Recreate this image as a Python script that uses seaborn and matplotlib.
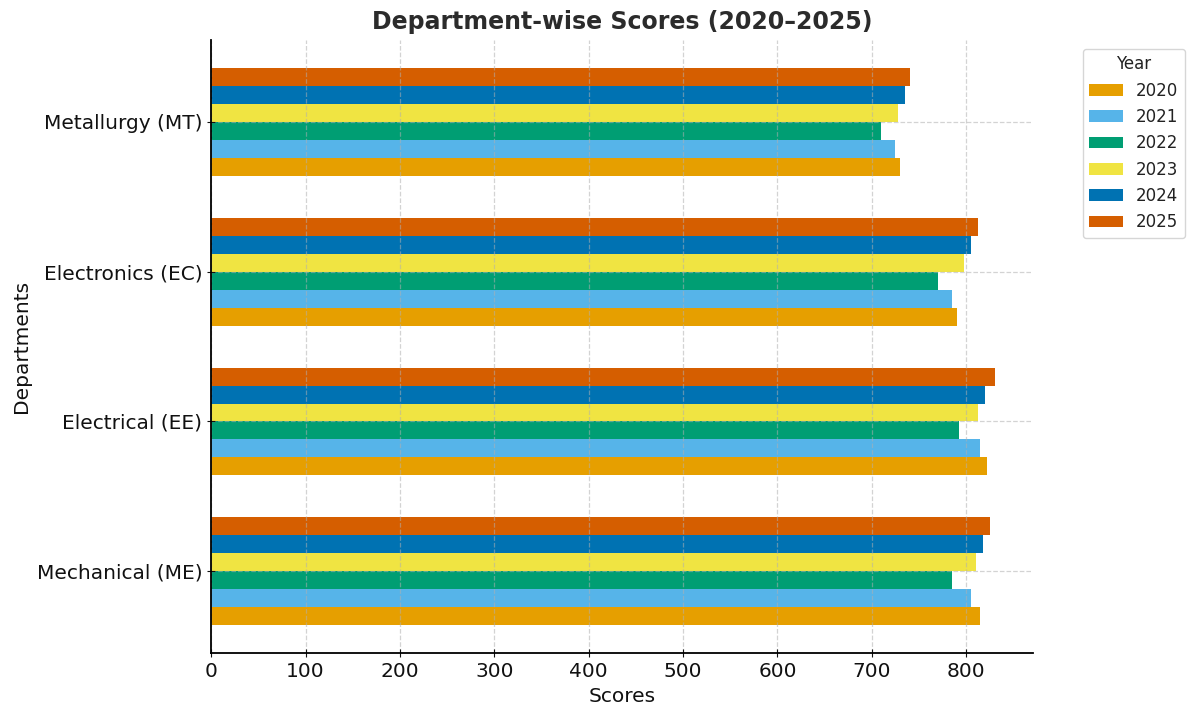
import seaborn as sns
import matplotlib.pyplot as plt
import pandas as pd

# Data
departments = ["Mechanical (ME)", "Electrical (EE)", "Electronics (EC)", "Metallurgy (MT)"]
years = ["2020", "2021", "2022", "2023", "2024", "2025"]

mechanical = [815, 805, 785, 810, 818, 825]
electrical = [822, 815, 792, 812, 820, 830]
electronics = [790, 785, 770, 798, 805, 812]
metallurgy = [730, 725, 710, 728, 735, 740]

colors = ["#E69F00", "#56B4E9", "#009E73", "#F0E442", "#0072B2", "#D55E00"]

rows = []
for dept, vals in zip(departments, [mechanical, electrical, electronics, metallurgy]):
    for yr, v in zip(years, vals):
        rows.append({"Department": dept, "Year": yr, "Score": v})
df = pd.DataFrame(rows)

sns.set_style("ticks")
plt.rcParams['font.family'] = ['DejaVu Sans']
plt.rcParams['text.color'] = '#222222'
plt.rcParams['axes.labelcolor'] = '#111111'
plt.rcParams['xtick.color'] = '#111111'
plt.rcParams['ytick.color'] = '#111111'
plt.rcParams['axes.edgecolor'] = 'black'

fig, ax = plt.subplots(figsize=(12, 7.18), dpi=100)
fig.subplots_adjust(left=0.176, right=0.861, top=0.944, bottom=0.0905)

sns.barplot(
    data=df, x="Score", y="Department", hue="Year",
    order=departments, hue_order=years, palette=colors,
    orient="h", width=0.72, ax=ax, saturation=1, linewidth=0,
)

# seaborn puts the first category on top; flip so Mechanical / 2020 sit at the bottom
ax.set_ylim(-0.546, 3.546)
ax.set_xlim(0, 871)

# grid drawn over the bars, faint dashed
ax.set_axisbelow(False)
ax.grid(True, linestyle="--", color="#b0b0b0", alpha=0.55, linewidth=0.9)
sns.despine(ax=ax)
for s in ("left", "bottom"):
    ax.spines[s].set_linewidth(1.3)
    ax.spines[s].set_zorder(5)

ax.set_title("Department-wise Scores (2020–2025)", fontsize=17, fontweight="bold",
             pad=8, color="#2b2b2b")
ax.set_xlabel("Scores", fontsize=14.5)
ax.set_ylabel("Departments", fontsize=14.5)
ax.tick_params(axis="both", labelsize=14.5, direction="inout", length=6)

ax.legend(title="Year", bbox_to_anchor=(1.05, 1), loc="upper left",
          fontsize=12, title_fontsize=12)

fig.savefig("out.png", dpi=100)
